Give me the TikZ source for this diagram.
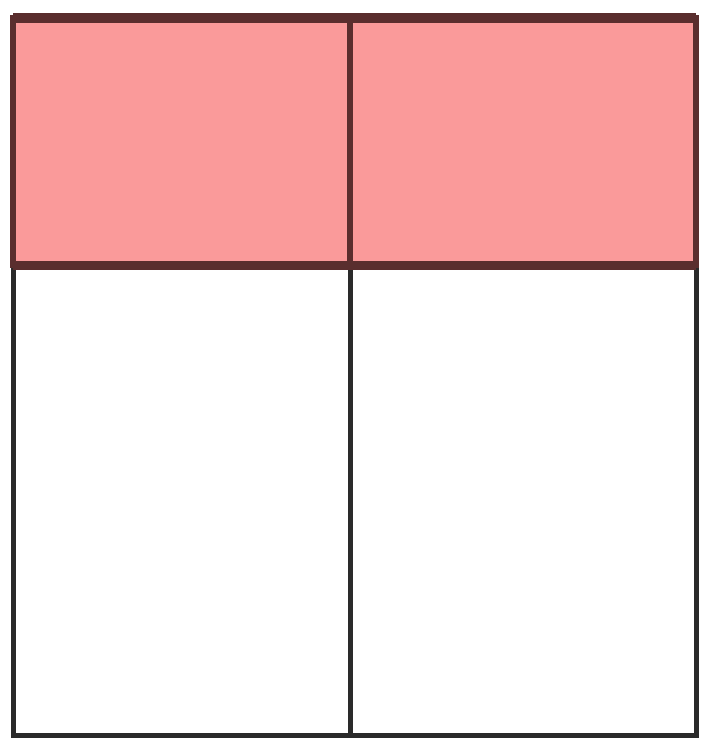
\documentclass[tikz,border=0pt]{standalone}
\usetikzlibrary{positioning}
\definecolor{headFill}{HTML}{FA9A9A}
\definecolor{headLine}{HTML}{5A2E2E}
\definecolor{bodyLine}{HTML}{2A2A2A}

\begin{document}
\begin{tikzpicture}[x=1pt, y=-1pt,
  hcell/.style={rectangle, draw=headLine, fill=headFill, line width=6pt,
                minimum width=337pt, minimum height=247pt,
                anchor=north west, inner sep=0pt, outer sep=0pt},
  bcell/.style={rectangle, draw=bodyLine, fill=white, line width=5pt,
                minimum width=337pt, minimum height=470pt,
                anchor=north west, inner sep=0pt, outer sep=0pt},
  node distance=0pt
]
\useasboundingbox (0,0) rectangle (711,743);
\node[bcell] (bl) at (13,265) {};
\node[bcell, right=of bl.north east, anchor=north west, minimum width=346pt] (br) {};
\node[hcell] (hl) at (13,18) {};
\node[hcell, right=of hl.north east, anchor=north west, minimum width=346pt] (hr) {};
% heavier rules above and below the pink row
\draw[headLine, line width=10pt] (hl.north west) -- (hr.north east);
\draw[headLine, line width=9pt] (hl.south west) -- (hr.south east);
\end{tikzpicture}
\end{document}
